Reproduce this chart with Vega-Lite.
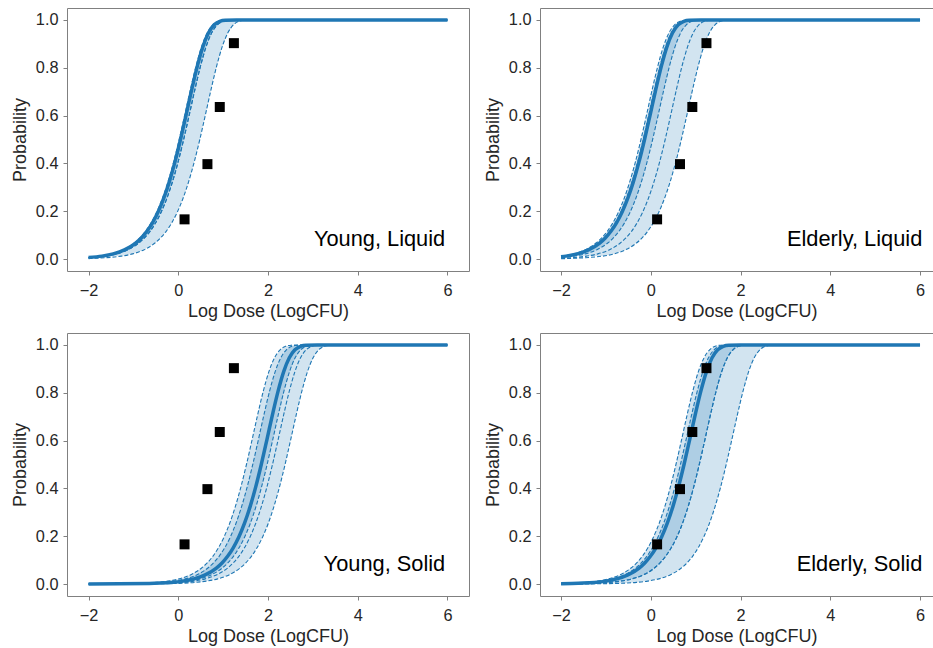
{
"$schema": "https://vega.github.io/schema/vega-lite/v6.json",
"padding": {"left": 10, "top": 7, "right": 0, "bottom": 0},
"config": {
 "font": "Liberation Sans",
 "view": {"stroke": "#808080", "strokeWidth": 1},
 "axis": {"grid": false, "domain": false, "tickColor": "#808080", "tickSize": 4, "labelFontSize": 16.3, "titleFontSize": 18, "labelColor": "#262626", "titleColor": "#262626", "titleFontWeight": "normal", "labelFont": "Liberation Sans", "titleFont": "Liberation Sans"},
 "axisX": {"labelPadding": 7, "titlePadding": 4},
 "axisY": {"labelPadding": 5, "titlePadding": 6}
},
"datasets": {
 "pts": [{"x":0.14,"y":0.166},{"x":0.65,"y":0.397},{"x":0.925,"y":0.636},{"x":1.24,"y":0.903}],
 "curves": [
  {"p":1,"s":1,"y":0.0066,"a":-2},
  {"p":1,"s":1,"y":0.0063,"b":-2},
  {"p":1,"s":1,"y":0.0062,"m":-2},
  {"p":1,"s":1,"y":0.0052,"c":-2,"d":-2},
  {"p":1,"s":1,"y":0.0023,"e":-2},
  {"p":1,"y":0.0123,"a":-1.73,"b":-1.71,"m":-1.7,"c":-1.63,"d":-1.63,"e":-1.27},
  {"p":1,"y":0.0217,"a":-1.48,"b":-1.46,"m":-1.45,"c":-1.38,"d":-1.38,"e":-1.02},
  {"p":1,"y":0.0382,"a":-1.23,"b":-1.21,"m":-1.2,"c":-1.13,"d":-1.13,"e":-0.77},
  {"p":1,"y":0.067,"a":-0.98,"b":-0.96,"m":-0.95,"c":-0.88,"d":-0.88,"e":-0.52},
  {"p":1,"y":0.0883,"a":-0.855,"b":-0.835,"m":-0.825,"c":-0.755,"d":-0.755,"e":-0.395},
  {"p":1,"y":0.116,"a":-0.73,"b":-0.71,"m":-0.7,"c":-0.63,"d":-0.63,"e":-0.27},
  {"p":1,"y":0.1516,"a":-0.605,"b":-0.585,"m":-0.575,"c":-0.505,"d":-0.505,"e":-0.145},
  {"p":1,"y":0.1968,"a":-0.48,"b":-0.46,"m":-0.45,"c":-0.38,"d":-0.38,"e":-0.02},
  {"p":1,"y":0.2534,"a":-0.355,"b":-0.335,"m":-0.325,"c":-0.255,"d":-0.255,"e":0.105},
  {"p":1,"y":0.3228,"a":-0.23,"b":-0.21,"m":-0.2,"c":-0.13,"d":-0.13,"e":0.23},
  {"p":1,"y":0.4053,"a":-0.105,"b":-0.085,"m":-0.075,"c":-0.005,"d":-0.005,"e":0.355},
  {"p":1,"y":0.5,"a":0.02,"b":0.04,"m":0.05,"c":0.12,"d":0.12,"e":0.48},
  {"p":1,"y":0.6032,"a":0.145,"b":0.165,"m":0.175,"c":0.245,"d":0.245,"e":0.605},
  {"p":1,"y":0.7085,"a":0.27,"b":0.29,"m":0.3,"c":0.37,"d":0.37,"e":0.73},
  {"p":1,"y":0.8067,"a":0.395,"b":0.415,"m":0.425,"c":0.495,"d":0.495,"e":0.855},
  {"p":1,"y":0.8883,"a":0.52,"b":0.54,"m":0.55,"c":0.62,"d":0.62,"e":0.98},
  {"p":1,"y":0.9462,"a":0.645,"b":0.665,"m":0.675,"c":0.745,"d":0.745,"e":1.105},
  {"p":1,"y":0.9797,"a":0.77,"b":0.79,"m":0.8,"c":0.87,"d":0.87,"e":1.23},
  {"p":1,"y":0.9945,"a":0.895,"b":0.915,"m":0.925,"c":0.995,"d":0.995,"e":1.355},
  {"p":1,"y":0.999,"a":1.02,"b":1.04,"m":1.05,"c":1.12,"d":1.12,"e":1.48},
  {"p":1,"y":1,"a":1.27,"b":1.29,"m":1.3,"c":1.37,"d":1.37,"e":1.73},
  {"p":1,"s":1,"y":1,"a":6,"b":6,"m":6,"c":6,"d":6,"e":6},

  {"p":2,"s":1,"y":0.0114,"a":-2},
  {"p":2,"s":1,"y":0.0102,"b":-2},
  {"p":2,"s":1,"y":0.0095,"m":-2},
  {"p":2,"s":1,"y":0.0063,"c":-2},
  {"p":2,"s":1,"y":0.0033,"d":-2},
  {"p":2,"s":1,"y":0.0014,"e":-2},
  {"p":2,"y":0.0123,"a":-1.97,"b":-1.92,"m":-1.89,"c":-1.71,"d":-1.43,"e":-1.07},
  {"p":2,"y":0.0217,"a":-1.72,"b":-1.67,"m":-1.64,"c":-1.46,"d":-1.18,"e":-0.82},
  {"p":2,"y":0.0382,"a":-1.47,"b":-1.42,"m":-1.39,"c":-1.21,"d":-0.93,"e":-0.57},
  {"p":2,"y":0.067,"a":-1.22,"b":-1.17,"m":-1.14,"c":-0.96,"d":-0.68,"e":-0.32},
  {"p":2,"y":0.0883,"a":-1.095,"b":-1.045,"m":-1.015,"c":-0.835,"d":-0.555,"e":-0.195},
  {"p":2,"y":0.116,"a":-0.97,"b":-0.92,"m":-0.89,"c":-0.71,"d":-0.43,"e":-0.07},
  {"p":2,"y":0.1516,"a":-0.845,"b":-0.795,"m":-0.765,"c":-0.585,"d":-0.305,"e":0.055},
  {"p":2,"y":0.1968,"a":-0.72,"b":-0.67,"m":-0.64,"c":-0.46,"d":-0.18,"e":0.18},
  {"p":2,"y":0.2534,"a":-0.595,"b":-0.545,"m":-0.515,"c":-0.335,"d":-0.055,"e":0.305},
  {"p":2,"y":0.3228,"a":-0.47,"b":-0.42,"m":-0.39,"c":-0.21,"d":0.07,"e":0.43},
  {"p":2,"y":0.4053,"a":-0.345,"b":-0.295,"m":-0.265,"c":-0.085,"d":0.195,"e":0.555},
  {"p":2,"y":0.5,"a":-0.22,"b":-0.17,"m":-0.14,"c":0.04,"d":0.32,"e":0.68},
  {"p":2,"y":0.6032,"a":-0.095,"b":-0.045,"m":-0.015,"c":0.165,"d":0.445,"e":0.805},
  {"p":2,"y":0.7085,"a":0.03,"b":0.08,"m":0.11,"c":0.29,"d":0.57,"e":0.93},
  {"p":2,"y":0.8067,"a":0.155,"b":0.205,"m":0.235,"c":0.415,"d":0.695,"e":1.055},
  {"p":2,"y":0.8883,"a":0.28,"b":0.33,"m":0.36,"c":0.54,"d":0.82,"e":1.18},
  {"p":2,"y":0.9462,"a":0.405,"b":0.455,"m":0.485,"c":0.665,"d":0.945,"e":1.305},
  {"p":2,"y":0.9797,"a":0.53,"b":0.58,"m":0.61,"c":0.79,"d":1.07,"e":1.43},
  {"p":2,"y":0.9945,"a":0.655,"b":0.705,"m":0.735,"c":0.915,"d":1.195,"e":1.555},
  {"p":2,"y":0.999,"a":0.78,"b":0.83,"m":0.86,"c":1.04,"d":1.32,"e":1.68},
  {"p":2,"y":1,"a":1.03,"b":1.08,"m":1.11,"c":1.29,"d":1.57,"e":1.93},
  {"p":2,"s":1,"y":1,"a":6,"b":6,"m":6,"c":6,"d":6,"e":6},

  {"p":3,"s":1,"y":0.0002,"a":-2},
  {"p":3,"s":1,"y":0.00015,"b":-2},
  {"p":3,"s":1,"y":0.0001,"m":-2},
  {"p":3,"s":1,"y":0.0001,"c":-2},
  {"p":3,"s":1,"y":0.0001,"d":-2},
  {"p":3,"s":1,"y":0.00005,"e":-2},
  {"p":3,"y":0.0022,"a":-0.98,"b":-0.84,"m":-0.65,"c":-0.52,"d":-0.4,"e":-0.12},
  {"p":3,"y":0.0039,"a":-0.73,"b":-0.59,"m":-0.4,"c":-0.27,"d":-0.15,"e":0.13},
  {"p":3,"y":0.0069,"a":-0.48,"b":-0.34,"m":-0.15,"c":-0.02,"d":0.1,"e":0.38},
  {"p":3,"y":0.0123,"a":-0.23,"b":-0.09,"m":0.1,"c":0.23,"d":0.35,"e":0.63},
  {"p":3,"y":0.0217,"a":0.02,"b":0.16,"m":0.35,"c":0.48,"d":0.6,"e":0.88},
  {"p":3,"y":0.0382,"a":0.27,"b":0.41,"m":0.6,"c":0.73,"d":0.85,"e":1.13},
  {"p":3,"y":0.067,"a":0.52,"b":0.66,"m":0.85,"c":0.98,"d":1.1,"e":1.38},
  {"p":3,"y":0.0883,"a":0.645,"b":0.785,"m":0.975,"c":1.105,"d":1.225,"e":1.505},
  {"p":3,"y":0.116,"a":0.77,"b":0.91,"m":1.1,"c":1.23,"d":1.35,"e":1.63},
  {"p":3,"y":0.1516,"a":0.895,"b":1.035,"m":1.225,"c":1.355,"d":1.475,"e":1.755},
  {"p":3,"y":0.1968,"a":1.02,"b":1.16,"m":1.35,"c":1.48,"d":1.6,"e":1.88},
  {"p":3,"y":0.2534,"a":1.145,"b":1.285,"m":1.475,"c":1.605,"d":1.725,"e":2.005},
  {"p":3,"y":0.3228,"a":1.27,"b":1.41,"m":1.6,"c":1.73,"d":1.85,"e":2.13},
  {"p":3,"y":0.4053,"a":1.395,"b":1.535,"m":1.725,"c":1.855,"d":1.975,"e":2.255},
  {"p":3,"y":0.5,"a":1.52,"b":1.66,"m":1.85,"c":1.98,"d":2.1,"e":2.38},
  {"p":3,"y":0.6032,"a":1.645,"b":1.785,"m":1.975,"c":2.105,"d":2.225,"e":2.505},
  {"p":3,"y":0.7085,"a":1.77,"b":1.91,"m":2.1,"c":2.23,"d":2.35,"e":2.63},
  {"p":3,"y":0.8067,"a":1.895,"b":2.035,"m":2.225,"c":2.355,"d":2.475,"e":2.755},
  {"p":3,"y":0.8883,"a":2.02,"b":2.16,"m":2.35,"c":2.48,"d":2.6,"e":2.88},
  {"p":3,"y":0.9462,"a":2.145,"b":2.285,"m":2.475,"c":2.605,"d":2.725,"e":3.005},
  {"p":3,"y":0.9797,"a":2.27,"b":2.41,"m":2.6,"c":2.73,"d":2.85,"e":3.13},
  {"p":3,"y":0.9945,"a":2.395,"b":2.535,"m":2.725,"c":2.855,"d":2.975,"e":3.255},
  {"p":3,"y":0.999,"a":2.52,"b":2.66,"m":2.85,"c":2.98,"d":3.1,"e":3.38},
  {"p":3,"y":1,"a":2.77,"b":2.91,"m":3.1,"c":3.23,"d":3.35,"e":3.63},
  {"p":3,"s":1,"y":1,"a":6,"b":6,"m":6,"c":6,"d":6,"e":6},

  {"p":4,"s":1,"y":0.0019,"a":-2},
  {"p":4,"s":1,"y":0.0015,"b":-2},
  {"p":4,"s":1,"y":0.0013,"m":-2},
  {"p":4,"s":1,"y":0.0006,"c":-2,"d":-2},
  {"p":4,"s":1,"y":0.0001,"e":-2},
  {"p":4,"y":0.0022,"a":-1.94,"b":-1.84,"m":-1.76,"c":-1.42,"d":-1.42,"e":-0.82},
  {"p":4,"y":0.0039,"a":-1.69,"b":-1.59,"m":-1.51,"c":-1.17,"d":-1.17,"e":-0.57},
  {"p":4,"y":0.0069,"a":-1.44,"b":-1.34,"m":-1.26,"c":-0.92,"d":-0.92,"e":-0.32},
  {"p":4,"y":0.0123,"a":-1.19,"b":-1.09,"m":-1.01,"c":-0.67,"d":-0.67,"e":-0.07},
  {"p":4,"y":0.0217,"a":-0.94,"b":-0.84,"m":-0.76,"c":-0.42,"d":-0.42,"e":0.18},
  {"p":4,"y":0.0382,"a":-0.69,"b":-0.59,"m":-0.51,"c":-0.17,"d":-0.17,"e":0.43},
  {"p":4,"y":0.067,"a":-0.44,"b":-0.34,"m":-0.26,"c":0.08,"d":0.08,"e":0.68},
  {"p":4,"y":0.0883,"a":-0.315,"b":-0.215,"m":-0.135,"c":0.205,"d":0.205,"e":0.805},
  {"p":4,"y":0.116,"a":-0.19,"b":-0.09,"m":-0.01,"c":0.33,"d":0.33,"e":0.93},
  {"p":4,"y":0.1516,"a":-0.065,"b":0.035,"m":0.115,"c":0.455,"d":0.455,"e":1.055},
  {"p":4,"y":0.1968,"a":0.06,"b":0.16,"m":0.24,"c":0.58,"d":0.58,"e":1.18},
  {"p":4,"y":0.2534,"a":0.185,"b":0.285,"m":0.365,"c":0.705,"d":0.705,"e":1.305},
  {"p":4,"y":0.3228,"a":0.31,"b":0.41,"m":0.49,"c":0.83,"d":0.83,"e":1.43},
  {"p":4,"y":0.4053,"a":0.435,"b":0.535,"m":0.615,"c":0.955,"d":0.955,"e":1.555},
  {"p":4,"y":0.5,"a":0.56,"b":0.66,"m":0.74,"c":1.08,"d":1.08,"e":1.68},
  {"p":4,"y":0.6032,"a":0.685,"b":0.785,"m":0.865,"c":1.205,"d":1.205,"e":1.805},
  {"p":4,"y":0.7085,"a":0.81,"b":0.91,"m":0.99,"c":1.33,"d":1.33,"e":1.93},
  {"p":4,"y":0.8067,"a":0.935,"b":1.035,"m":1.115,"c":1.455,"d":1.455,"e":2.055},
  {"p":4,"y":0.8883,"a":1.06,"b":1.16,"m":1.24,"c":1.58,"d":1.58,"e":2.18},
  {"p":4,"y":0.9462,"a":1.185,"b":1.285,"m":1.365,"c":1.705,"d":1.705,"e":2.305},
  {"p":4,"y":0.9797,"a":1.31,"b":1.41,"m":1.49,"c":1.83,"d":1.83,"e":2.43},
  {"p":4,"y":0.9945,"a":1.435,"b":1.535,"m":1.615,"c":1.955,"d":1.955,"e":2.555},
  {"p":4,"y":0.999,"a":1.56,"b":1.66,"m":1.74,"c":2.08,"d":2.08,"e":2.68},
  {"p":4,"y":1,"a":1.81,"b":1.91,"m":1.99,"c":2.33,"d":2.33,"e":2.93},
  {"p":4,"s":1,"y":1,"a":6,"b":6,"m":6,"c":6,"d":6,"e":6}
 ]
},
"columns": 2,
"spacing": {"row": 11, "column": 13},
"concat": [
 {
  "width": 402, "height": 263,
  "data": {"name": "curves"},
  "encoding": {"y": {"field": "y", "type": "quantitative", "title": "Probability", "scale": {"domain": [-0.05, 1.05], "nice": false, "zero": false}, "axis": {"values": [0, 0.2, 0.4, 0.6, 0.8, 1], "format": ".1f"}}},
  "layer": [
   {"transform": [{"filter": "datum.p == 1 && !datum.s"}], "mark": {"type": "area", "orient": "horizontal", "color": "#1f77b4", "opacity": 0.2},
    "encoding": {"x": {"field": "a", "type": "quantitative", "title": "Log Dose (LogCFU)", "scale": {"domain": [-2.48, 6.48], "nice": false, "zero": false}, "axis": {"values": [-2, 0, 2, 4, 6], "format": "d"}}, "x2": {"field": "e"}}},
   {"transform": [{"filter": "datum.p == 1 && !datum.s"}], "mark": {"type": "area", "orient": "horizontal", "color": "#1f77b4", "opacity": 0.2},
    "encoding": {"x": {"field": "b", "type": "quantitative", "title": "Log Dose (LogCFU)"}, "x2": {"field": "c"}}},
   {"transform": [{"filter": "datum.p == 1"}, {"fold": ["a", "b", "c", "d", "e"], "as": ["k", "xv"]}, {"filter": "isValid(datum.xv)"}], "mark": {"type": "line", "color": "#1f77b4", "strokeWidth": 1.1, "strokeDash": [4, 2], "interpolate": "monotone"},
    "encoding": {"x": {"field": "xv", "type": "quantitative", "title": "Log Dose (LogCFU)"}, "detail": {"field": "k"}}},
   {"transform": [{"filter": "datum.p == 1 && isValid(datum.m)"}], "mark": {"type": "line", "color": "#1f77b4", "strokeWidth": 3.5, "interpolate": "monotone"},
    "encoding": {"x": {"field": "m", "type": "quantitative", "title": "Log Dose (LogCFU)"}}},
   {"data": {"name": "pts"}, "mark": {"type": "point", "shape": "square", "filled": true, "color": "black", "size": 100, "opacity": 1},
    "encoding": {"x": {"field": "x", "type": "quantitative", "title": "Log Dose (LogCFU)"}}},
   {"data": {"values": [{"label": "Young, Liquid", "x": 5.95, "y": 0.054}]}, "mark": {"type": "text", "align": "right", "baseline": "alphabetic", "fontSize": 21.8, "color": "black", "font": "Liberation Sans"},
    "encoding": {"x": {"field": "x", "type": "quantitative", "title": "Log Dose (LogCFU)"}, "text": {"field": "label"}}}
  ]
 },
 {
  "width": 393, "height": 263,
  "data": {"name": "curves"},
  "encoding": {"y": {"field": "y", "type": "quantitative", "title": "Probability", "scale": {"domain": [-0.05, 1.05], "nice": false, "zero": false}, "axis": {"values": [0, 0.2, 0.4, 0.6, 0.8, 1], "format": ".1f"}}},
  "layer": [
   {"transform": [{"filter": "datum.p == 2 && !datum.s"}], "mark": {"type": "area", "orient": "horizontal", "color": "#1f77b4", "opacity": 0.2},
    "encoding": {"x": {"field": "a", "type": "quantitative", "title": "Log Dose (LogCFU)", "scale": {"domain": [-2.47, 6.289], "nice": false, "zero": false}, "axis": {"values": [-2, 0, 2, 4, 6], "format": "d"}}, "x2": {"field": "e"}}},
   {"transform": [{"filter": "datum.p == 2 && !datum.s"}], "mark": {"type": "area", "orient": "horizontal", "color": "#1f77b4", "opacity": 0.2},
    "encoding": {"x": {"field": "b", "type": "quantitative", "title": "Log Dose (LogCFU)"}, "x2": {"field": "c"}}},
   {"transform": [{"filter": "datum.p == 2"}, {"fold": ["a", "b", "c", "d", "e"], "as": ["k", "xv"]}, {"filter": "isValid(datum.xv)"}], "mark": {"type": "line", "color": "#1f77b4", "strokeWidth": 1.1, "strokeDash": [4, 2], "interpolate": "monotone"},
    "encoding": {"x": {"field": "xv", "type": "quantitative", "title": "Log Dose (LogCFU)"}, "detail": {"field": "k"}}},
   {"transform": [{"filter": "datum.p == 2 && isValid(datum.m)"}], "mark": {"type": "line", "color": "#1f77b4", "strokeWidth": 3.5, "interpolate": "monotone"},
    "encoding": {"x": {"field": "m", "type": "quantitative", "title": "Log Dose (LogCFU)"}}},
   {"data": {"name": "pts"}, "mark": {"type": "point", "shape": "square", "filled": true, "color": "black", "size": 100, "opacity": 1},
    "encoding": {"x": {"field": "x", "type": "quantitative", "title": "Log Dose (LogCFU)"}}},
   {"data": {"values": [{"label": "Elderly, Liquid", "x": 6.05, "y": 0.054}]}, "mark": {"type": "text", "align": "right", "baseline": "alphabetic", "fontSize": 21.8, "color": "black", "font": "Liberation Sans"},
    "encoding": {"x": {"field": "x", "type": "quantitative", "title": "Log Dose (LogCFU)"}, "text": {"field": "label"}}}
  ]
 },
 {
  "width": 402, "height": 263,
  "data": {"name": "curves"},
  "encoding": {"y": {"field": "y", "type": "quantitative", "title": "Probability", "scale": {"domain": [-0.05, 1.05], "nice": false, "zero": false}, "axis": {"values": [0, 0.2, 0.4, 0.6, 0.8, 1], "format": ".1f"}}},
  "layer": [
   {"transform": [{"filter": "datum.p == 3 && !datum.s"}], "mark": {"type": "area", "orient": "horizontal", "color": "#1f77b4", "opacity": 0.2},
    "encoding": {"x": {"field": "a", "type": "quantitative", "title": "Log Dose (LogCFU)", "scale": {"domain": [-2.48, 6.48], "nice": false, "zero": false}, "axis": {"values": [-2, 0, 2, 4, 6], "format": "d"}}, "x2": {"field": "e"}}},
   {"transform": [{"filter": "datum.p == 3 && !datum.s"}], "mark": {"type": "area", "orient": "horizontal", "color": "#1f77b4", "opacity": 0.2},
    "encoding": {"x": {"field": "b", "type": "quantitative", "title": "Log Dose (LogCFU)"}, "x2": {"field": "c"}}},
   {"transform": [{"filter": "datum.p == 3"}, {"fold": ["a", "b", "c", "d", "e"], "as": ["k", "xv"]}, {"filter": "isValid(datum.xv)"}], "mark": {"type": "line", "color": "#1f77b4", "strokeWidth": 1.1, "strokeDash": [4, 2], "interpolate": "monotone"},
    "encoding": {"x": {"field": "xv", "type": "quantitative", "title": "Log Dose (LogCFU)"}, "detail": {"field": "k"}}},
   {"transform": [{"filter": "datum.p == 3 && isValid(datum.m)"}], "mark": {"type": "line", "color": "#1f77b4", "strokeWidth": 3.5, "interpolate": "monotone"},
    "encoding": {"x": {"field": "m", "type": "quantitative", "title": "Log Dose (LogCFU)"}}},
   {"data": {"name": "pts"}, "mark": {"type": "point", "shape": "square", "filled": true, "color": "black", "size": 100, "opacity": 1},
    "encoding": {"x": {"field": "x", "type": "quantitative", "title": "Log Dose (LogCFU)"}}},
   {"data": {"values": [{"label": "Young, Solid", "x": 5.95, "y": 0.054}]}, "mark": {"type": "text", "align": "right", "baseline": "alphabetic", "fontSize": 21.8, "color": "black", "font": "Liberation Sans"},
    "encoding": {"x": {"field": "x", "type": "quantitative", "title": "Log Dose (LogCFU)"}, "text": {"field": "label"}}}
  ]
 },
 {
  "width": 393, "height": 263,
  "data": {"name": "curves"},
  "encoding": {"y": {"field": "y", "type": "quantitative", "title": "Probability", "scale": {"domain": [-0.05, 1.05], "nice": false, "zero": false}, "axis": {"values": [0, 0.2, 0.4, 0.6, 0.8, 1], "format": ".1f"}}},
  "layer": [
   {"transform": [{"filter": "datum.p == 4 && !datum.s"}], "mark": {"type": "area", "orient": "horizontal", "color": "#1f77b4", "opacity": 0.2},
    "encoding": {"x": {"field": "a", "type": "quantitative", "title": "Log Dose (LogCFU)", "scale": {"domain": [-2.47, 6.289], "nice": false, "zero": false}, "axis": {"values": [-2, 0, 2, 4, 6], "format": "d"}}, "x2": {"field": "e"}}},
   {"transform": [{"filter": "datum.p == 4 && !datum.s"}], "mark": {"type": "area", "orient": "horizontal", "color": "#1f77b4", "opacity": 0.2},
    "encoding": {"x": {"field": "b", "type": "quantitative", "title": "Log Dose (LogCFU)"}, "x2": {"field": "c"}}},
   {"transform": [{"filter": "datum.p == 4"}, {"fold": ["a", "b", "c", "d", "e"], "as": ["k", "xv"]}, {"filter": "isValid(datum.xv)"}], "mark": {"type": "line", "color": "#1f77b4", "strokeWidth": 1.1, "strokeDash": [4, 2], "interpolate": "monotone"},
    "encoding": {"x": {"field": "xv", "type": "quantitative", "title": "Log Dose (LogCFU)"}, "detail": {"field": "k"}}},
   {"transform": [{"filter": "datum.p == 4 && isValid(datum.m)"}], "mark": {"type": "line", "color": "#1f77b4", "strokeWidth": 3.5, "interpolate": "monotone"},
    "encoding": {"x": {"field": "m", "type": "quantitative", "title": "Log Dose (LogCFU)"}}},
   {"data": {"name": "pts"}, "mark": {"type": "point", "shape": "square", "filled": true, "color": "black", "size": 100, "opacity": 1},
    "encoding": {"x": {"field": "x", "type": "quantitative", "title": "Log Dose (LogCFU)"}}},
   {"data": {"values": [{"label": "Elderly, Solid", "x": 6.05, "y": 0.054}]}, "mark": {"type": "text", "align": "right", "baseline": "alphabetic", "fontSize": 21.8, "color": "black", "font": "Liberation Sans"},
    "encoding": {"x": {"field": "x", "type": "quantitative", "title": "Log Dose (LogCFU)"}, "text": {"field": "label"}}}
  ]
 }
]
}
